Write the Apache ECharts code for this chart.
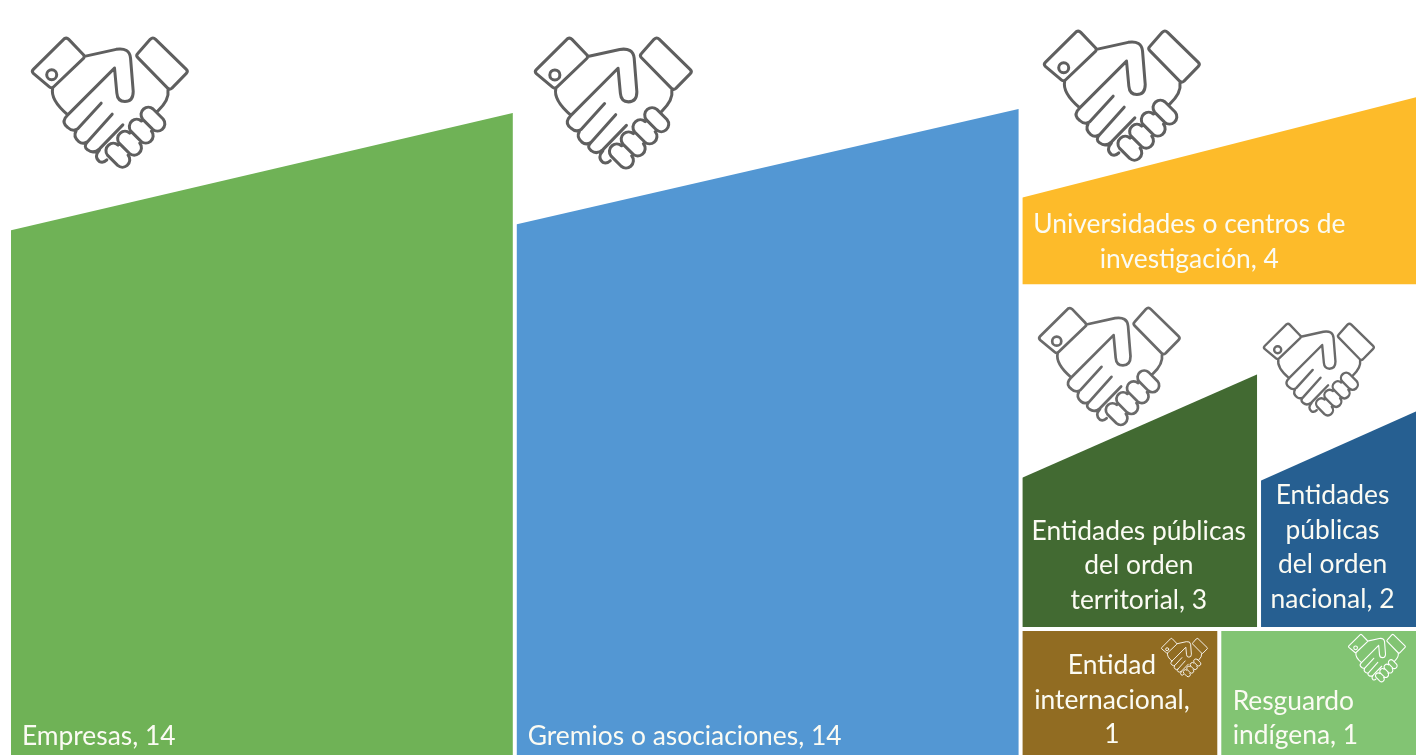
<!DOCTYPE html>
<html><head><meta charset="utf-8">
<style>html,body{margin:0;padding:0;background:#fff}#c{width:1420px;height:755px}</style>
<script src="https://cdn.jsdelivr.net/npm/echarts@6/dist/echarts.min.js"></script>
</head><body><div id="c"></div>
<script>
const categories = ['Empresas','Gremios o asociaciones','Universidades o centros de investigación','Entidades públicas del orden territorial','Entidades públicas del orden nacional','Entidad internacional','Resguardo indígena'];
const values = [14,14,4,3,2,1,1];
const wrappedLabels = ['Empresas, 14','Gremios o asociaciones, 14','Universidades o centros de\ninvestigación, 4','Entidades públicas\ndel orden\nterritorial, 3','Entidades\npúblicas\ndel orden\nnacional, 2','Entidad\ninternacional,\n1','Resguardo\nindígena, 1'];
const colors = ['#6FB256','#5397D3','#FDBB2A','#426A32','#265F91','#916C22','#82C473'];
const TEXT = '#FBFBF3';
// label placement per tile: alignment and offset from the tile centre
const labelPlace = [
  {align:'left', offset:[-245,347]},
  {align:'left', offset:[-245,347]},
  {align:'center', offset:[-30,93]},
  {align:'center', offset:[-1,108]},
  {align:'center', offset:[-6,90]},
  {align:'center', offset:[-8,3]},
  {align:'left', offset:[-91,21]}
];
// slanted top of a tile: share of the tile height hidden at its left and right edges
const slant = [[.2886,.1316],[.2806,.1263],[.68,.3068],[.5607,.253],[.5695,.3624],null,null];
// handshake icons: x, y, width, colour, stroke
const icons = [
  [31,37,158,'#5f5f5f',9],[534,37,159,'#5f5f5f',9],[1043,30,158,'#5f5f5f',9],
  [1038,307,143,'#6a6a6a',9],[1263,323,112,'#6a6a6a',10],
  [1161,638,47,'#ffffff',9],[1348,634,58,'#ffffff',9]
];
const HAND = 'M135 42Q142 38 148 44L192 90Q197 96 192 101L103 186Q97 192 90 186L42 146Q36 140 42 134Z'
 +'M112 150A15 15 0 1 1 82 150A15 15 0 1 1 112 150Z'
 +'M392 44Q400 36 408 44L500 134Q506 140 500 146L457 190Q450 196 444 190L354 98Q349 92 354 87Z'
 +'M195 95L290 74Q330 68 333 100L341 200Q341 230 316 230Q294 230 292 205L285 130L145 270'
 +'M100 190Q92 225 145 270'
 +'M445 195Q450 225 415 258'
 +'M145 270L137 280Q128 295 145 308Q160 322 175 312L245 235'
 +'M170 318Q160 335 178 350Q190 360 205 350L278 268'
 +'M205 350Q190 365 205 375Q222 388 240 372L310 300'
 +'M240 375Q222 395 240 410Q252 415 262 405'
 +'M400.5 252.5L430.5 282.5A22 22 0 0 1 399.5 313.5L369.5 283.5A22 22 0 0 1 400.5 252.5Z'
 +'M395.5 318.5A22 22 0 0 1 364.5 349.5L334.5 319.5A22 22 0 0 1 365.5 288.5'
 +'M360.5 354.5A22 22 0 0 1 329.5 385.5L299.5 355.5A22 22 0 0 1 330.5 324.5'
 +'M325.5 390.5A22 22 0 0 1 294.5 421.5L264.5 391.5A22 22 0 0 1 295.5 360.5';

const chart = echarts.init(document.getElementById('c'));
const BOX = {left:11, top:14, width:1405, height:750};
chart.setOption({
  backgroundColor:'#fff',
  animation:false,
  tooltip:{show:false},
  series:[{
    type:'treemap', ...BOX,
    roam:false, nodeClick:false, squareRatio:1.2, sort:false,
    breadcrumb:{show:false},
    itemStyle:{borderWidth:0, gapWidth:4},
    levels:[{itemStyle:{borderWidth:0,gapWidth:4}}],
    label:{show:true,color:TEXT,fontFamily:'Lato',fontSize:26.4,lineHeight:34.5,overflow:'none'},
    data:categories.map((n,i)=>({
      name:n, value:values[i],
      itemStyle:{color:colors[i]},
      label:{position:'inside',align:labelPlace[i].align,verticalAlign:'middle',offset:labelPlace[i].offset,formatter:()=>wrappedLabels[i]}
    }))
  },{
    type:'custom', coordinateSystem:'none', z:20, silent:true,
    data:icons.map((_,i)=>i),
    renderItem:(p,api)=>{
      const [x,y,w,c,lw]=icons[api.value(0)];
      const s=w/473;
      return {type:'path',x:x-35*s,y:y-37*s,scaleX:s,scaleY:s,shape:{pathData:HAND},
        style:{fill:'none',stroke:c,lineWidth:lw,lineJoin:'round',lineCap:'round'}};
    }
  }]
});
// white masks cut each tile's top along its slant, derived from the laid-out tiles
const tm = chart.getModel().getSeriesByIndex(0);
const kids = tm.getViewRoot().viewChildren || tm.getViewRoot().children;
const masks = [];
kids.forEach(node=>{
  const i = categories.indexOf(node.name), sl = slant[i];
  if(!sl) return;
  const l=node.getLayout(), X=BOX.left+l.x, Y=BOX.top+l.y;
  masks.push({type:'polygon',z:10,silent:true,
    shape:{points:[[X-1,Y-1],[X+l.width+1,Y-1],[X+l.width+1,Y+l.height*sl[1]],[X-1,Y+l.height*sl[0]]]},
    style:{fill:'#fff'}});
});
chart.setOption({graphic:{elements:masks}});
</script></body></html>
